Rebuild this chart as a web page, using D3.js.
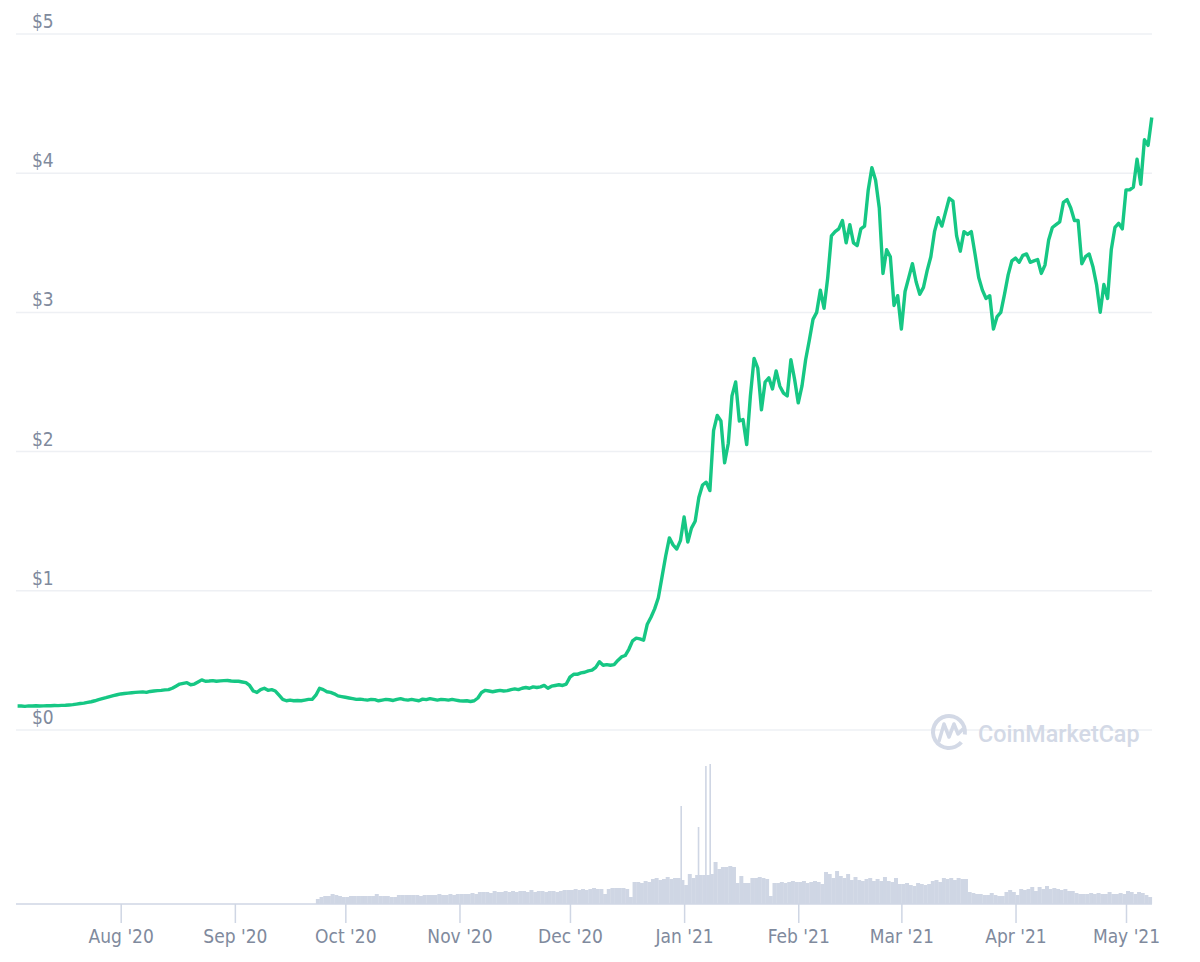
<!DOCTYPE html>
<html>
<head>
    <meta charset="utf-8" />
    <script src="https://d3js.org/d3.v7.min.js"></script>
    <title></title>
    <style>
        body { margin: 0; background: #fff; }
        text { font-family: "Liberation Sans Narrow", "DejaVu Sans Condensed", sans-serif; }
    </style>
</head>
<body>
    <svg id="chart"></svg>
    <script type="text/javascript">
        // price, one value a day, first day below
        var priceStart = "2020-07-04";
        var priceValues = [
            0.172,0.172,0.170,0.173,0.172,0.174,0.172,0.173,0.175,0.174,0.176,0.175,0.177,0.178,
            0.180,0.182,0.186,0.190,0.193,0.198,0.203,0.210,0.218,0.225,0.232,0.240,0.247,0.253,
            0.259,
            0.262,0.265,0.268,0.270,0.272,0.274,0.270,0.277,0.280,0.283,0.285,0.288,0.290,0.300,0.315,0.330,
            0.335,0.340,0.325,0.330,0.345,0.360,0.350,0.352,0.355,0.350,0.353,0.355,0.356,0.352,0.350,
            0.350,0.345,0.340,0.320,0.280,0.270,0.290,0.300,0.285,0.290,0.280,0.250,0.220,0.210,0.215,
            0.210,0.212,0.210,0.215,0.220,0.220,0.250,0.300,0.290,0.275,0.270,0.260,0.245,0.240,0.235,
            0.230,0.225,0.220,0.222,0.218,0.215,0.220,0.218,0.210,0.215,0.220,0.217,0.212,0.220,0.225,
            0.218,0.215,0.220,0.215,0.210,0.222,0.218,0.225,0.220,0.215,0.220,0.218,0.215,0.220,0.215,0.210,
            0.208,0.210,0.205,0.210,0.230,0.270,0.285,0.280,0.275,0.280,0.285,0.280,0.283,0.290,0.295,
            0.290,0.300,0.305,0.300,0.310,0.305,0.310,0.320,0.300,0.315,0.320,0.325,0.320,0.330,
            0.380,0.400,0.400,0.410,0.415,0.425,0.430,0.450,0.490,0.465,0.470,0.465,0.470,0.500,0.525,
            0.535,0.580,0.640,0.660,0.655,0.645,0.760,0.810,0.870,0.950,1.100,1.250,1.380,1.330,1.300,1.360,
            1.530,1.350,1.450,1.500,1.670,1.760,1.780,1.720,2.150,2.260,2.220,1.920,2.060,2.400,2.500,
            2.220,2.230,2.050,2.400,2.670,2.600,2.300,2.500,2.530,2.450,2.580,2.470,2.420,2.400,2.660,2.520,
            2.350,2.470,2.660,2.800,2.950,3.000,3.160,3.030,3.250,3.550,3.580,3.600,3.660,3.500,
            3.630,3.500,3.480,3.600,3.620,3.880,4.040,3.950,3.750,3.280,3.450,3.400,3.050,3.120,
            2.880,3.150,3.250,3.350,3.220,3.130,3.180,3.300,3.400,3.580,3.680,3.620,3.720,3.820,3.800,
            3.550,3.440,3.580,3.560,3.580,3.420,3.250,3.160,3.100,3.120,2.880,2.970,3.000,3.130,3.270,3.370,
            3.390,3.360,3.410,3.420,3.360,3.370,3.380,3.280,3.340,3.520,3.610,3.630,3.650,3.790,3.810,
            3.750,3.660,3.660,3.350,3.400,3.420,3.330,3.200,3.000,3.200,3.100,3.450,3.610,3.640,3.600,
            3.880,3.880,3.900,4.100,3.920,4.240,4.200,4.400
        ];

        // daily volume (relative units)
        var volumeStart = "2020-09-23";
        var volumeValues = [
            0.5,0.7,0.8,0.8,1.0,0.9,0.8,
            0.7,0.7,0.8,0.8,0.8,0.8,0.8,0.8,0.8,1.0,0.8,0.8,0.8,0.7,0.7,0.9,
            0.9,0.9,0.9,0.9,0.9,0.8,0.9,0.9,0.9,0.9,1.0,0.9,0.9,1.0,0.9,
            1.0,1.0,1.0,1.0,1.1,1.0,1.2,1.2,1.2,1.1,1.3,1.2,1.2,1.3,1.2,
            1.3,1.2,1.3,1.3,1.2,1.4,1.2,1.3,1.3,1.2,1.3,1.3,1.2,1.3,1.4,
            1.4,1.4,1.5,1.4,1.5,1.4,1.5,1.6,1.5,1.5,1.0,1.5,1.6,1.6,1.6,1.6,
            1.5,0.7,2.2,2.2,2.1,2.3,2.2,2.5,2.6,2.4,2.5,2.7,2.5,2.6,2.6,
            2.4,1.9,3.0,2.6,2.9,2.9,2.9,2.9,3.0,4.2,3.5,3.7,3.7,3.8,3.7,2.1,
            2.8,2.1,2.1,2.6,2.6,2.7,2.6,2.5,0.8,2.1,2.1,2.2,2.1,2.2,2.3,
            2.2,2.2,2.3,2.1,2.2,2.3,2.2,2.0,3.2,3.0,2.6,3.3,2.8,2.6,
            3.0,2.4,2.7,2.4,2.3,2.5,2.6,2.3,2.5,2.3,2.7,2.3,2.2,2.6,
            2.0,2.0,2.1,1.9,1.8,2.1,2.0,1.9,2.0,2.3,2.4,2.2,2.6,2.5,2.6,2.4,
            2.6,2.5,2.5,1.2,1.1,1.0,1.0,0.9,0.9,1.1,0.9,0.8,0.8,1.2,1.4,
            1.2,0.9,1.5,1.4,1.5,1.7,1.3,1.7,1.5,1.8,1.5,1.6,1.5,1.4,1.5,
            1.3,1.3,1.1,1.0,1.0,1.0,1.1,1.0,1.1,1.0,1.0,1.2,1.0,1.0,1.1,
            1.0,1.3,1.2,1.0,1.2,1.1,0.9,0.7
        ];

        // hourly spikes sticking out of the volume bars
        var spikeTimes = ["2020-12-31T05:00", "2021-01-04T22:00", "2021-01-06T22:00", "2021-01-08T02:00"];
        var spikeValues = [9.8, 7.7, 13.8, 14.0];

        var yTicks = [0, 1, 2, 3, 4, 5];
        var monthTicks = ["2020-08-01", "2020-09-01", "2020-10-01", "2020-11-01", "2020-12-01",
            "2021-01-01", "2021-02-01", "2021-03-01", "2021-04-01", "2021-05-01"];

        var width = 1200, height = 962;
        var left = 16, right = 1152;
        var green = "#16c784", grey = "#cfd6e4", gridCol = "#eef0f4", labelCol = "#808a9d";

        var parseDay = d3.utcParse("%Y-%m-%d");
        var parseHour = d3.utcParse("%Y-%m-%dT%H:%M");

        var svg = d3.select("#chart").attr("width", width).attr("height", height);

        var x = d3.scaleUtc()
            .domain([parseDay("2020-08-01"), parseDay("2021-05-01")])
            .range([120.7, 1126]);
        var y = d3.scaleLinear().domain([0, 5]).range([730, 34]);
        var yVol = d3.scaleLinear().domain([0, 14]).range([904, 764]);

        var p0 = parseDay(priceStart);
        var prices = priceValues.map(function (v, i) {
            return { date: d3.utcDay.offset(p0, i), value: v };
        });
        var v0 = parseDay(volumeStart);
        var volumes = volumeValues.map(function (v, i) {
            return { date: d3.utcDay.offset(v0, i), value: v };
        });
        var spikes = spikeTimes.map(function (t, i) {
            return { date: parseHour(t), value: spikeValues[i] };
        });

        // grid + y labels
        svg.append("g").selectAll("line").data(yTicks).enter().append("line")
            .attr("x1", left).attr("x2", right)
            .attr("y1", function (d) { return y(d); })
            .attr("y2", function (d) { return y(d); })
            .attr("stroke", gridCol).attr("stroke-width", 1.5);
        svg.append("g").selectAll("text").data(yTicks).enter().append("text")
            .attr("x", 32)
            .attr("y", function (d) { return y(d) - 6; })
            .attr("fill", labelCol)
            .style("font-size", "19px")
            .text(function (d) { return "$" + d; });

        // watermark
        var wm = svg.append("g").attr("fill", "none").attr("stroke", "#d3d9e6");
        wm.append("path")
            .attr("d", d3.arc().innerRadius(14).outerRadius(18)
                .startAngle(Math.PI * 0.72).endAngle(Math.PI * 2.55)())
            .attr("transform", "translate(949,732)")
            .attr("fill", "#d3d9e6").attr("stroke", "none");
        wm.append("path")
            .attr("d", "M939,741 L944,724 L949,737 L954,724 L958,734 L963,729")
            .attr("stroke-width", 3.5).attr("stroke-linejoin", "round").attr("stroke-linecap", "round");
        svg.append("text")
            .attr("x", 978).attr("y", 742)
            .attr("fill", "#d3d9e6")
            .style("font-family", "Roboto, 'Noto Sans', sans-serif")
            .style("font-size", "23.3px").style("font-weight", 500)
            .text("CoinMarketCap");

        // volume
        var dayW = x(parseDay("2020-08-02")) - x(parseDay("2020-08-01"));
        svg.append("g").selectAll("rect").data(volumes).enter().append("rect")
            .attr("x", function (d) { return x(d.date); })
            .attr("width", dayW + 0.3)
            .attr("y", function (d) { return yVol(d.value); })
            .attr("height", function (d) { return yVol(0) - yVol(d.value); })
            .attr("fill", grey);
        svg.append("g").selectAll("rect").data(spikes).enter().append("rect")
            .attr("x", function (d) { return x(d.date) - 0.8; })
            .attr("width", 1.6)
            .attr("y", function (d) { return yVol(d.value); })
            .attr("height", function (d) { return yVol(0) - yVol(d.value); })
            .attr("fill", grey);

        // price line
        var line = d3.line()
            .x(function (d) { return x(d.date); })
            .y(function (d) { return y(d.value); });
        svg.append("path").datum(prices)
            .attr("d", line)
            .attr("fill", "none")
            .attr("stroke", green)
            .attr("stroke-width", 3.4)
            .attr("stroke-linejoin", "round");

        // x axis
        svg.append("line")
            .attr("x1", left).attr("x2", right)
            .attr("y1", 904).attr("y2", 904)
            .attr("stroke", grey).attr("stroke-width", 1.5);
        var xAxis = d3.axisBottom(x)
            .tickValues(monthTicks.map(parseDay))
            .tickFormat(d3.utcFormat("%b '%y"))
            .tickSize(19).tickPadding(7);
        var gx = svg.append("g").attr("transform", "translate(0,904)").call(xAxis);
        gx.select(".domain").remove();
        gx.selectAll(".tick line").attr("stroke", grey).attr("stroke-width", 1.5);
        gx.selectAll(".tick text").attr("fill", labelCol)
            .style("font-family", "'Liberation Sans Narrow', 'DejaVu Sans Condensed', sans-serif")
            .style("font-size", "19px");
    </script>
</body>
</html>
